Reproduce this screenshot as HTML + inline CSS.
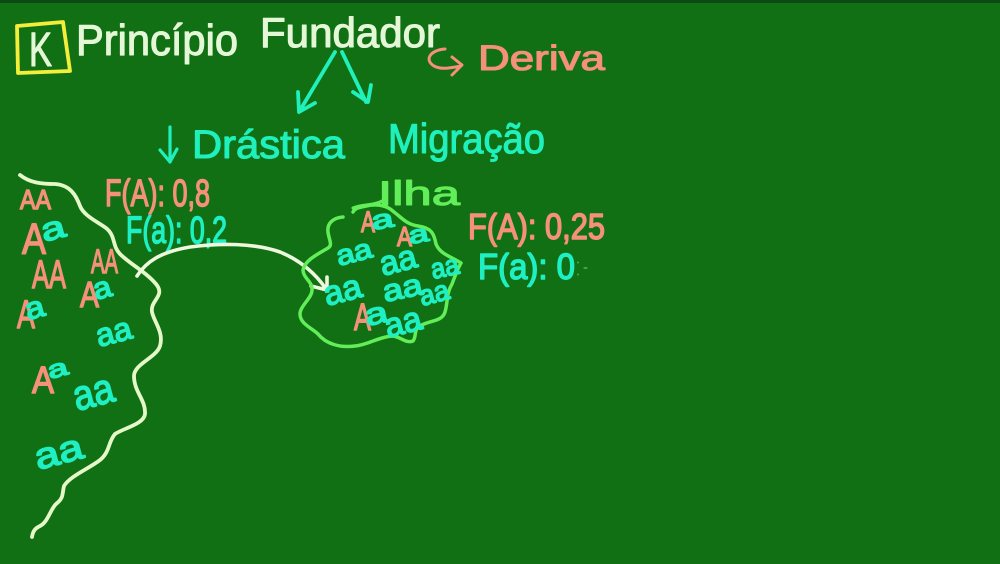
<!DOCTYPE html>
<html><head><meta charset="utf-8"><style>
html,body{margin:0;padding:0;background:#116f14;width:1000px;height:564px;overflow:hidden}
svg{display:block}
text{font-family:"Liberation Sans",sans-serif;stroke-width:1.1;stroke-linejoin:round}
.w{fill:#e4f8d8;stroke:#e4f8d8}.o{fill:#f5917a;stroke:#f5917a}.c{fill:#1ff0bc;stroke:#1ff0bc}.g{fill:#62ee58;stroke:#62ee58}
.t{fill:#1ff0c4;stroke:#1ff0c4;stroke-width:1.5}.p{fill:#f5917a;stroke:#f5917a;stroke-width:1.5}
.l{fill:none;stroke-linecap:round;stroke-linejoin:round}
</style></head><body>
<svg width="1000" height="564" viewBox="0 0 1000 564" xmlns="http://www.w3.org/2000/svg">
<rect width="1000" height="564" fill="#116f14"/>
<rect width="1000" height="3" fill="#0b4a12"/>
<path class="l" d="M17 26L63 22L70 71L18 73Z" stroke="#f2ee3a" stroke-width="3.8"/>
<text class="w" x="29" y="66" font-size="48" textLength="23" lengthAdjust="spacingAndGlyphs">K</text>
<text class="w" x="76" y="55" font-size="44" textLength="162" lengthAdjust="spacingAndGlyphs">Princípio</text>
<text class="w" x="260" y="47" font-size="42" textLength="180" lengthAdjust="spacingAndGlyphs">Fundador</text>
<path class="l" d="M445 49C430 50 424 60 434 66C442 70 450 68 461 66M452 57L462 65L452 75" stroke="#f5917a" stroke-width="3"/>
<text class="o" x="478" y="70" font-size="35" textLength="127" lengthAdjust="spacingAndGlyphs">Deriva</text>
<path class="l" d="M335 52L299 112M298 92L299 112L315 103M342 52L366 102M353 92L368 102L371 85" stroke="#1ff0bc" stroke-width="3.8"/>
<path class="l" d="M170 127L170 162M160 150L170 162L177 149" stroke="#1ff0bc" stroke-width="3.2"/>
<text class="c" x="192" y="158" font-size="40" textLength="153" lengthAdjust="spacingAndGlyphs">Drástica</text>
<text class="c" x="388" y="153" font-size="42" textLength="157" lengthAdjust="spacingAndGlyphs">Migração</text>
<text class="p" x="105" y="206" font-size="38" textLength="105" lengthAdjust="spacingAndGlyphs">F(A): 0,8</text>
<text class="t" x="126" y="243" font-size="38" textLength="101" lengthAdjust="spacingAndGlyphs">F(a): 0,2</text>
<text class="g" x="378" y="205" font-size="34" textLength="82" lengthAdjust="spacingAndGlyphs">Ilha</text>
<text class="p" x="468" y="239" font-size="36" textLength="137" lengthAdjust="spacingAndGlyphs">F(A): 0,25</text>
<text class="t" x="478" y="279" font-size="36" textLength="97" lengthAdjust="spacingAndGlyphs">F(a): 0</text>

<path class="l" d="M20 175C30 183 42 184 55 184C70 185 76 195 80 206C84 216 98 222 106 228C116 236 112 246 120 254C130 264 146 272 156 284C166 296 150 300 152 312C154 322 164 332 160 346C156 358 134 364 134 376C134 392 146 400 145 414C144 424 124 428 115 434C108 442 110 452 100 460C90 468 70 476 64 486C62 494 64 498 56 504C50 510 48 522 40 526C36 528 33 530 32 537" stroke="#e4f8c8" stroke-width="3.8"/>
<path class="l" d="M137 276C146 262 160 252 190 247C220 243 255 243 280 252C300 260 316 274 326 289M327 277L327 290L311 286" stroke="#eef8dc" stroke-width="3.6"/>
<path class="l" d="M343 217C332 218 327 224 328 232C329 240 333 245 328 248C318 254 305 260 303 270C303 278 313 282 312 290C312 298 300 306 300 314C300 324 312 328 318 334C326 344 340 348 355 346C368 345 378 337 392 336C400 336 406 344 413 341C417 336 413 330 420 326C430 320 442 322 445 312C448 302 446 294 452 284C455 276 458 268 461 263C450 256 440 254 436 244C434 234 432 228 418 226C406 224 402 218 394 212C386 204 374 204 366 206C358 208 355 208 353 212" stroke="#62ee58" stroke-width="3.5"/>
<path class="l" d="M353 208C362 204 374 206 384 200" stroke="#62ee58" stroke-width="3"/>

<g>
<text class="p" x="20" y="209" font-size="28" textLength="31" lengthAdjust="spacingAndGlyphs">AA</text>
<text class="p" x="22" y="254" font-size="44" textLength="24" lengthAdjust="spacingAndGlyphs">A</text><text class="t" transform="rotate(-15 44 242)" x="44" y="242" font-size="32" textLength="24" lengthAdjust="spacingAndGlyphs">a</text>
<text class="p" x="32" y="288" font-size="40" textLength="34" lengthAdjust="spacingAndGlyphs">AA</text>
<text class="p" x="91" y="273" font-size="34" textLength="27" lengthAdjust="spacingAndGlyphs">AA</text>
<text class="p" x="80" y="307" font-size="36" textLength="19" lengthAdjust="spacingAndGlyphs">A</text><text class="t" transform="rotate(-15 96 300)" x="96" y="300" font-size="30" textLength="18" lengthAdjust="spacingAndGlyphs">a</text>
<text class="p" x="17" y="328" font-size="40" textLength="18" lengthAdjust="spacingAndGlyphs">A</text><text class="t" transform="rotate(-15 28 320)" x="28" y="320" font-size="30" textLength="19" lengthAdjust="spacingAndGlyphs">a</text>
<text class="t" transform="rotate(-15 99 347)" x="99" y="347" font-size="32" textLength="36" lengthAdjust="spacingAndGlyphs">aa</text>
<text class="p" x="32" y="393" font-size="38" textLength="22" lengthAdjust="spacingAndGlyphs">A</text><text class="t" transform="rotate(-15 50 379)" x="50" y="379" font-size="24" textLength="20" lengthAdjust="spacingAndGlyphs">a</text>
<text class="t" transform="rotate(-15 77 411)" x="77" y="411" font-size="42" textLength="41" lengthAdjust="spacingAndGlyphs">aa</text>
<text class="t" transform="rotate(-15 38 470)" x="38" y="470" font-size="36" textLength="49" lengthAdjust="spacingAndGlyphs">aa</text>

<text class="p" x="361" y="232" font-size="30" textLength="14" lengthAdjust="spacingAndGlyphs">A</text><text class="t" transform="rotate(-10 373 230)" x="373" y="230" font-size="26" textLength="22" lengthAdjust="spacingAndGlyphs">a</text>
<text class="p" x="397" y="246" font-size="28" textLength="15" lengthAdjust="spacingAndGlyphs">A</text><text class="t" transform="rotate(-10 410 244)" x="410" y="244" font-size="24" textLength="20" lengthAdjust="spacingAndGlyphs">a</text>
<text class="t" transform="rotate(-15 339 266)" x="339" y="266" font-size="28" textLength="36" lengthAdjust="spacingAndGlyphs">aa</text>
<text class="t" transform="rotate(-15 383 276)" x="383" y="276" font-size="34" textLength="37" lengthAdjust="spacingAndGlyphs">aa</text>
<text class="t" transform="rotate(-15 327 306)" x="327" y="306" font-size="34" textLength="38" lengthAdjust="spacingAndGlyphs">aa</text>
<text class="t" transform="rotate(-12 385 302)" x="385" y="302" font-size="30" textLength="40" lengthAdjust="spacingAndGlyphs">aa</text>
<text class="t" transform="rotate(-12 433 279)" x="433" y="279" font-size="28" textLength="28" lengthAdjust="spacingAndGlyphs">aa</text>
<text class="t" transform="rotate(-15 422 306)" x="422" y="306" font-size="28" textLength="30" lengthAdjust="spacingAndGlyphs">aa</text>
<text class="p" x="354" y="330" font-size="38" textLength="17" lengthAdjust="spacingAndGlyphs">A</text><text class="t" transform="rotate(-12 367 326)" x="367" y="326" font-size="30" textLength="23" lengthAdjust="spacingAndGlyphs">a</text>
<text class="t" transform="rotate(-15 388 338)" x="388" y="338" font-size="34" textLength="37" lengthAdjust="spacingAndGlyphs">aa</text>
</g>
<path class="l" d="M578 262L578 263M578 274L578 275M584 268L587 268" stroke="#7fd08a" stroke-width="1"/>
</svg>
</body></html>
